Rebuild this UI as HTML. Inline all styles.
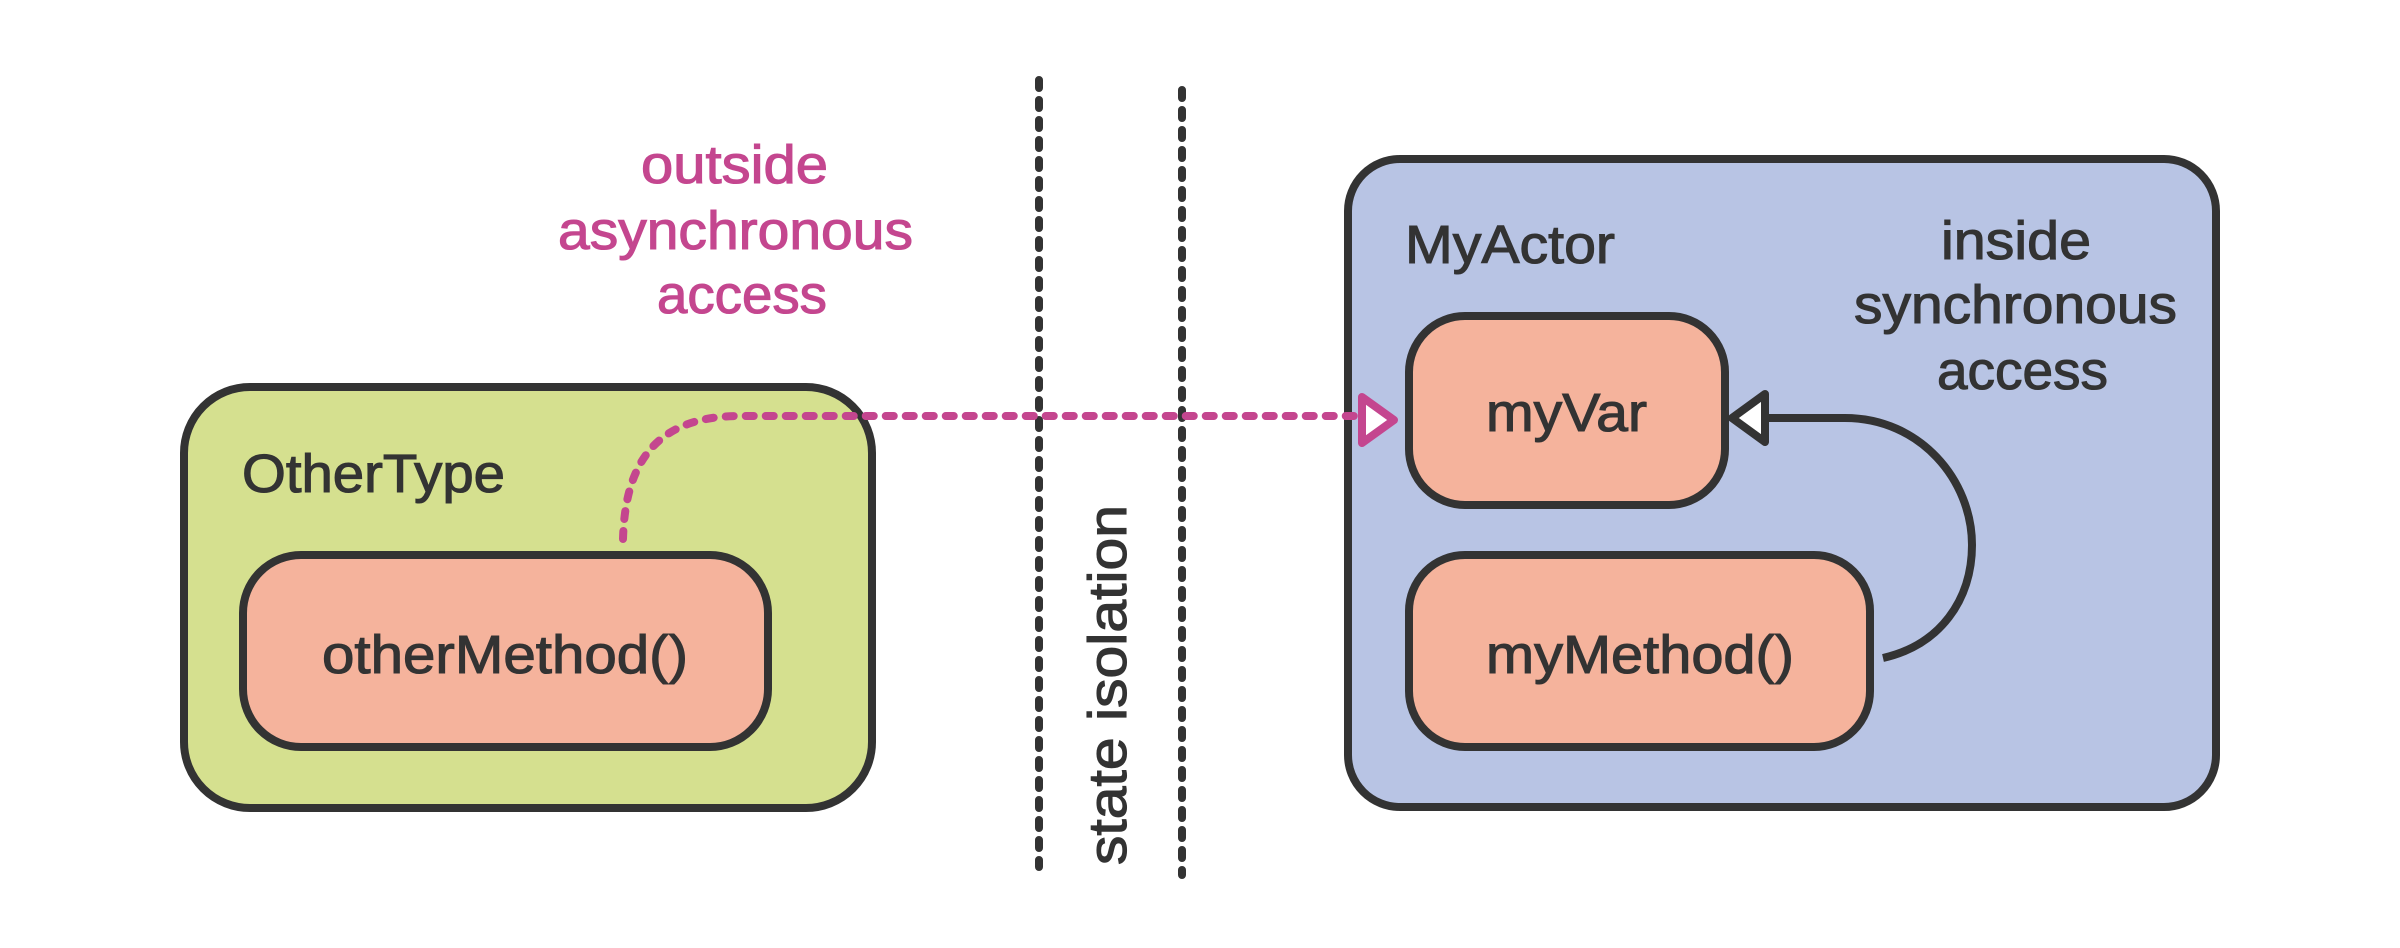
<!DOCTYPE html>
<html><head><meta charset="utf-8"><style>
html,body{margin:0;padding:0;background:#fff;}
svg{display:block}
text{font-family:"Liberation Sans",sans-serif;stroke-width:1.1;}
</style></head><body>
<svg width="2400" height="948" viewBox="0 0 2400 948" xmlns="http://www.w3.org/2000/svg">
<rect width="2400" height="948" fill="#fff"/>
<rect x="184" y="387" width="688" height="421" rx="66" fill="#d5e08f" stroke="#333" stroke-width="8"/>
<text x="242" y="492" font-size="54" fill="#333" stroke="#333" textLength="263" lengthAdjust="spacingAndGlyphs">OtherType</text>
<rect x="243" y="555" width="525" height="192" rx="58" fill="#f5b39c" stroke="#333" stroke-width="8"/>
<text x="322" y="673" font-size="54" fill="#333" stroke="#333" textLength="366" lengthAdjust="spacingAndGlyphs">otherMethod()</text>
<g fill="#c4468f" stroke="#c4468f" font-size="54">
<text x="641" y="183" textLength="187" lengthAdjust="spacingAndGlyphs">outside</text>
<text x="558" y="249" textLength="355" lengthAdjust="spacingAndGlyphs">asynchronous</text>
<text x="657" y="313" textLength="170" lengthAdjust="spacingAndGlyphs">access</text>
</g>
<line x1="1039" y1="80" x2="1039" y2="867" stroke="#333" stroke-width="8" stroke-linecap="round" stroke-dasharray="8 12"/>
<line x1="1182" y1="90" x2="1182" y2="875" stroke="#333" stroke-width="8" stroke-linecap="round" stroke-dasharray="8 12"/>
<text transform="translate(1126,865) rotate(-90)" font-size="54" fill="#333" stroke="#333" textLength="360" lengthAdjust="spacingAndGlyphs">state isolation</text>
<rect x="1348" y="159" width="868" height="648" rx="52" fill="#b8c4e4" stroke="#333" stroke-width="8"/>
<text x="1405" y="263" font-size="54" fill="#333" stroke="#333" textLength="210" lengthAdjust="spacingAndGlyphs">MyActor</text>
<g fill="#333" stroke="#333" font-size="54">
<text x="1941" y="259" textLength="150" lengthAdjust="spacingAndGlyphs">inside</text>
<text x="1854" y="323" textLength="323" lengthAdjust="spacingAndGlyphs">synchronous</text>
<text x="1937" y="389" textLength="171" lengthAdjust="spacingAndGlyphs">access</text>
</g>
<rect x="1409" y="316" width="316" height="189" rx="56" fill="#f5b39c" stroke="#333" stroke-width="8"/>
<text x="1486" y="431" font-size="54" fill="#333" stroke="#333" textLength="161" lengthAdjust="spacingAndGlyphs">myVar</text>
<rect x="1409" y="555" width="461" height="192" rx="56" fill="#f5b39c" stroke="#333" stroke-width="8"/>
<text x="1486" y="673" font-size="54" fill="#333" stroke="#333" textLength="308" lengthAdjust="spacingAndGlyphs">myMethod()</text>
<path d="M623 539 C625 470 650 416 740 416 L1355 416" fill="none" stroke="#c4468f" stroke-width="8" stroke-linecap="round" stroke-dasharray="8 12"/>
<path d="M1362 397 L1394 420 L1362 443 Z" fill="#fff" stroke="#c4468f" stroke-width="8" stroke-linejoin="round"/>
<path d="M1765 418 L1845 418 C1920 418 1972 480 1972 545 C1972 600 1940 645 1883 658" fill="none" stroke="#333" stroke-width="8"/>
<path d="M1765 394 L1732 418 L1765 442 Z" fill="#fff" stroke="#333" stroke-width="8" stroke-linejoin="round"/>
</svg>
</body></html>
